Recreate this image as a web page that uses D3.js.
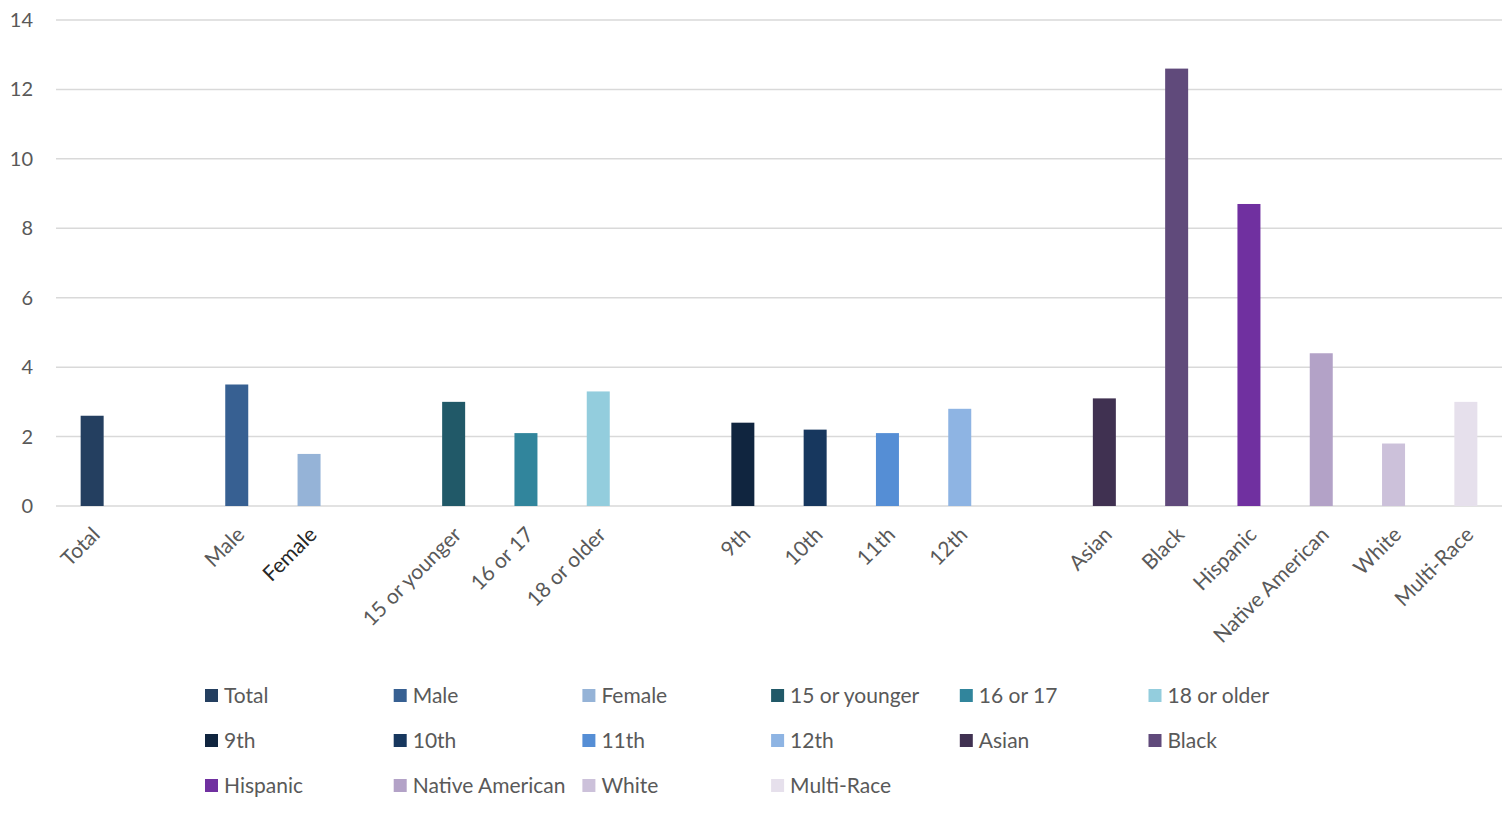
<!DOCTYPE html>
<html>
<head>
<meta charset="utf-8">
<script src="https://cdn.jsdelivr.net/npm/d3@7"></script>
<style>
  body { margin: 0; background: #fff; }
  text { font-family: Lato, "Open Sans", sans-serif; }
</style>
</head>
<body>
<script>
// categories, with blank slots as spacers between the groups
var slots = ["Total", "", "Male", "Female", "", "15 or younger", "16 or 17", "18 or older", "",
  "9th", "10th", "11th", "12th", "", "Asian", "Black", "Hispanic", "Native American", "White", "Multi-Race"]

var categories = ["Total", "Male", "Female", "15 or younger", "16 or 17", "18 or older",
  "9th", "10th", "11th", "12th", "Asian", "Black", "Hispanic", "Native American", "White", "Multi-Race"]
var values = [2.6, 3.5, 1.5, 3.0, 2.1, 3.3, 2.4, 2.2, 2.1, 2.8, 3.1, 12.6, 8.7, 4.4, 1.8, 3.0]
var colors = ["#243F60", "#376092", "#95B3D7", "#215968", "#31859C", "#93CDDD",
  "#10253F", "#17375E", "#558ED5", "#8EB4E3", "#403151", "#604A7B", "#7030A0", "#B3A2C7", "#CCC1DA", "#E6E0EC"]
var yTicks = [0, 2, 4, 6, 8, 10, 12, 14]

var width = 1512, height = 819
var margin = {top: 20, right: 10, left: 56, bottom: 313}

var svg = d3.select("body").append("svg")
    .attr("width", width)
    .attr("height", height)

var x = d3.scaleBand()
    .domain(d3.range(slots.length))
    .range([margin.left, width - margin.right])

var y = d3.scaleLinear()
    .domain([0, 14])
    .range([height - margin.bottom, margin.top])

var barW = 23

// gridlines
svg.append("g").selectAll("line")
    .data(yTicks)
  .enter().append("line")
    .attr("x1", margin.left)
    .attr("x2", width - margin.right)
    .attr("y1", function(d) { return y(d) })
    .attr("y2", function(d) { return y(d) })
    .style("stroke", "#d9d9d9")
    .style("stroke-width", 1.5)

// y labels
svg.append("g").selectAll("text")
    .data(yTicks)
  .enter().append("text")
    .attr("x", 33)
    .attr("y", function(d) { return y(d) + 7 })
    .attr("text-anchor", "end")
    .style("font-size", "20px")
    .style("fill", "#595959")
    .text(function(d) { return d })

function slotOf(c) { return slots.indexOf(c) }

// bars
svg.append("g").selectAll("rect")
    .data(categories)
  .enter().append("rect")
    .attr("x", function(d) { return x(slotOf(d)) + x.bandwidth() / 2 - barW / 2 })
    .attr("y", function(d, i) { return y(values[i]) })
    .attr("width", barW)
    .attr("height", function(d, i) { return y(0) - y(values[i]) })
    .style("fill", function(d, i) { return colors[i] })

// category labels, rotated
svg.append("g").selectAll("text")
    .data(categories)
  .enter().append("text")
    .attr("transform", function(d) {
      var cx = x(slotOf(d)) + x.bandwidth() / 2 + 9
      return "translate(" + cx + "," + (y(0) + 30) + ") rotate(-45)"
    })
    .attr("text-anchor", "end")
    .style("font-size", "21px")
    .style("fill", function(d) { return d == "Female" ? "#262626" : "#595959" })
    .text(function(d) { return d })

// legend
var legend = svg.append("g").selectAll("g")
    .data(categories)
  .enter().append("g")
    .attr("transform", function(d, i) {
      return "translate(" + (205 + (i % 6) * 188.7) + "," + (696 + Math.floor(i / 6) * 45) + ")"
    })

legend.append("rect")
    .attr("x", 0)
    .attr("y", -7)
    .attr("width", 13)
    .attr("height", 13)
    .style("fill", function(d, i) { return colors[i] })

legend.append("text")
    .attr("x", 19)
    .attr("y", 7)
    .style("font-size", "21px")
    .style("fill", "#595959")
    .text(function(d) { return d })
</script>
</body>
</html>
